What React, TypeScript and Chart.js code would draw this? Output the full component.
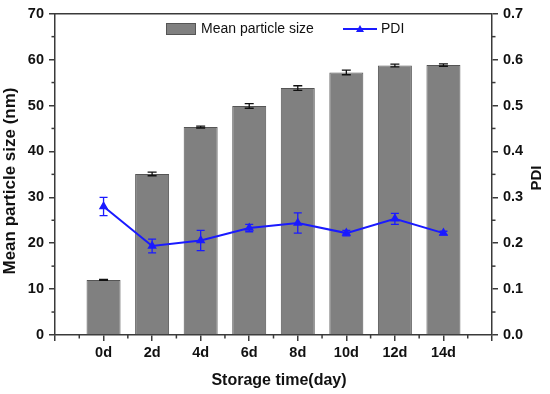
import React, { useEffect, useRef } from 'react';
import { Chart, registerables } from 'chart.js';

Chart.register(...registerables);

const categories = ['0d', '2d', '4d', '6d', '8d', '10d', '12d', '14d'];
const sizeValues = [12.0, 35.1, 45.3, 49.9, 53.8, 57.2, 58.7, 58.8];
const sizeErrors = [0.1, 0.4, 0.2, 0.5, 0.5, 0.5, 0.3, 0.25];
const pdiValues = [0.28, 0.194, 0.206, 0.233, 0.244, 0.222, 0.253, 0.222];
const pdiErrors = [0.02, 0.015, 0.022, 0.008, 0.022, 0.006, 0.012, 0.004];

const sizeAxis = { min: 0, max: 70, step: 10 };
const pdiAxis = { min: 0, max: 0.7, step: 0.1 };

const xTitle = 'Storage time(day)';
const yTitle = 'Mean particle size (nm)';
const y2Title = 'PDI';

const FONT = '"Liberation Sans", Arial, Helvetica, sans-serif';
const AXIS = '#3a3a3a';
const BAR_FILL = '#808080';
const BAR_EDGE = '#555555';
const BLUE = '#1a1aff';

const labels = ['', ...categories, ''];
const pad = (arr: number[]) => [null, ...arr, null];

const decorPlugin = {
  id: 'decor',
  afterDatasetDraw(chart: any, args: any) {
    const ds = chart.data.datasets[args.index];
    const errs: (number | null)[] = ds.errors;
    if (!errs) return;
    const meta = chart.getDatasetMeta(args.index);
    const scale = chart.scales[meta.yAxisID];
    const ctx = chart.ctx;
    ctx.save();
    ctx.strokeStyle = ds.errorColor;
    ctx.lineWidth = 1.3;
    const cap = ds.capWidth / 2;
    meta.data.forEach((el: any, j: number) => {
      const v = ds.data[j];
      const e = errs[j];
      if (v == null || e == null) return;
      const px = el.x;
      const yt = scale.getPixelForValue(v + e);
      const yb = scale.getPixelForValue(v - e);
      ctx.beginPath();
      ctx.moveTo(px, yt); ctx.lineTo(px, yb);
      ctx.moveTo(px - cap, yt); ctx.lineTo(px + cap, yt);
      ctx.moveTo(px - cap, yb); ctx.lineTo(px + cap, yb);
      ctx.stroke();
    });
    ctx.restore();
  },
  afterDraw(chart: any) {
    const ctx = chart.ctx;
    const { left, right, top, bottom } = chart.chartArea;
    const x = chart.scales.x;
    const y = chart.scales.y;
    const y2 = chart.scales.y2;
    ctx.save();
    ctx.strokeStyle = AXIS;
    ctx.lineWidth = 1.5;
    const seg = (a: number, b: number, c: number, d: number) => {
      ctx.beginPath(); ctx.moveTo(a, b); ctx.lineTo(c, d); ctx.stroke();
    };
    // top frame line
    seg(left, top, right, top);
    // minor ticks
    for (let v = sizeAxis.min + sizeAxis.step / 2; v < sizeAxis.max; v += sizeAxis.step) {
      const py = y.getPixelForValue(v);
      seg(left - 3.5, py, left, py);
    }
    for (let k = 0; k < 7; k++) {
      const py = y2.getPixelForValue(pdiAxis.min + pdiAxis.step * (k + 0.5));
      seg(right, py, right + 3.5, py);
    }
    for (let i = 0; i < labels.length - 1; i++) {
      const px = (x.getPixelForValue(i) + x.getPixelForValue(i + 1)) / 2;
      seg(px, bottom, px, bottom + 3.5);
    }
    // legend
    const ly = 29;
    const bar = chart.data.datasets.find((d: any) => d.type === 'bar');
    const ln = chart.data.datasets.find((d: any) => d.type === 'line');
    ctx.fillStyle = BAR_FILL;
    ctx.fillRect(166, ly - 6, 30, 12);
    ctx.strokeStyle = BAR_EDGE;
    ctx.lineWidth = 1;
    ctx.strokeRect(166.5, ly - 5.5, 29, 11);
    ctx.font = '14px ' + FONT;
    ctx.fillStyle = '#111';
    ctx.textBaseline = 'middle';
    ctx.textAlign = 'left';
    ctx.fillText(bar.label, 201, ly);
    ctx.strokeStyle = BLUE;
    ctx.lineWidth = 2;
    seg(343, ly, 377, ly);
    ctx.fillStyle = BLUE;
    ctx.beginPath();
    ctx.moveTo(360, ly - 4); ctx.lineTo(364, ly + 3); ctx.lineTo(356, ly + 3); ctx.closePath(); ctx.fill();
    ctx.fillStyle = '#111';
    ctx.fillText(ln.label, 381, ly);
    // axis titles
    ctx.textAlign = 'center';
    ctx.textBaseline = 'middle';
    ctx.fillStyle = '#111';
    ctx.font = 'bold 16px ' + FONT;
    ctx.fillText(xTitle, 279, 381);
    ctx.save();
    ctx.translate(10, 181);
    ctx.rotate(-Math.PI / 2);
    ctx.font = 'bold 17px ' + FONT;
    ctx.fillText(yTitle, 0, 0);
    ctx.restore();
    ctx.save();
    ctx.translate(537, 178);
    ctx.rotate(-Math.PI / 2);
    ctx.font = 'bold 15px ' + FONT;
    ctx.fillText(y2Title, 0, 0);
    ctx.restore();
    ctx.restore();
  },
};

export default function App() {
  const ref = useRef<HTMLCanvasElement>(null);
  useEffect(() => {
    if (!ref.current) return;
    const tickFont = { family: FONT, size: 14.5, weight: 'bold' as const };
    const grid = {
      drawOnChartArea: false,
      drawTicks: true,
      tickLength: 6,
      color: AXIS,
      lineWidth: 1.5,
      offset: false,
    };
    const chart = new Chart(ref.current, {
      type: 'bar',
      data: {
        labels,
        datasets: [
          {
            type: 'bar',
            label: 'Mean particle size',
            data: pad(sizeValues),
            backgroundColor: BAR_FILL,
            borderColor: BAR_EDGE,
            borderWidth: 1,
            yAxisID: 'y',
            order: 2,
            categoryPercentage: 0.7,
            barPercentage: 1,
            errors: pad(sizeErrors),
            errorColor: '#111',
            capWidth: 9,
          } as any,
          {
            type: 'line',
            label: 'PDI',
            data: pad(pdiValues),
            borderColor: BLUE,
            backgroundColor: BLUE,
            borderWidth: 2,
            pointStyle: 'triangle',
            pointRadius: 3.5,
            pointBackgroundColor: BLUE,
            pointBorderColor: BLUE,
            yAxisID: 'y2',
            order: 1,
            spanGaps: false,
            errors: pad(pdiErrors),
            errorColor: BLUE,
            capWidth: 8,
          } as any,
        ],
      },
      options: {
        responsive: false,
        animation: false,
        layout: { padding: { top: 10, left: 0, right: 0, bottom: 0 } },
        plugins: { legend: { display: false }, tooltip: { enabled: false } },
        scales: {
          x: {
            type: 'category',
            offset: false,
            grid,
            border: { color: AXIS, width: 1.5 },
            ticks: { font: tickFont, color: '#111', padding: 3, maxRotation: 0, autoSkip: false },
            afterFit: (s: any) => { s.height = 59; },
          },
          y: {
            position: 'left',
            min: sizeAxis.min,
            max: sizeAxis.max,
            grid,
            border: { color: AXIS, width: 1.5 },
            ticks: { stepSize: sizeAxis.step, font: tickFont, color: '#111', padding: 5 },
            afterFit: (s: any) => { s.width = 55; },
          },
          y2: {
            position: 'right',
            min: pdiAxis.min,
            max: pdiAxis.max,
            grid,
            border: { color: AXIS, width: 1.5 },
            ticks: {
              stepSize: pdiAxis.step,
              font: tickFont,
              color: '#111',
              padding: 5,
              callback: (v: any) => Number(v).toFixed(1),
            },
            afterFit: (s: any) => { s.width = 58; },
          },
        },
      },
      plugins: [decorPlugin],
    });
    return () => chart.destroy();
  }, []);
  return (
    <div style={{ position: 'fixed', left: 0, top: 0, width: 550, height: 394, background: '#fff' }}>
      <canvas ref={ref} width={550} height={394} style={{ display: 'block' }} />
    </div>
  );
}
